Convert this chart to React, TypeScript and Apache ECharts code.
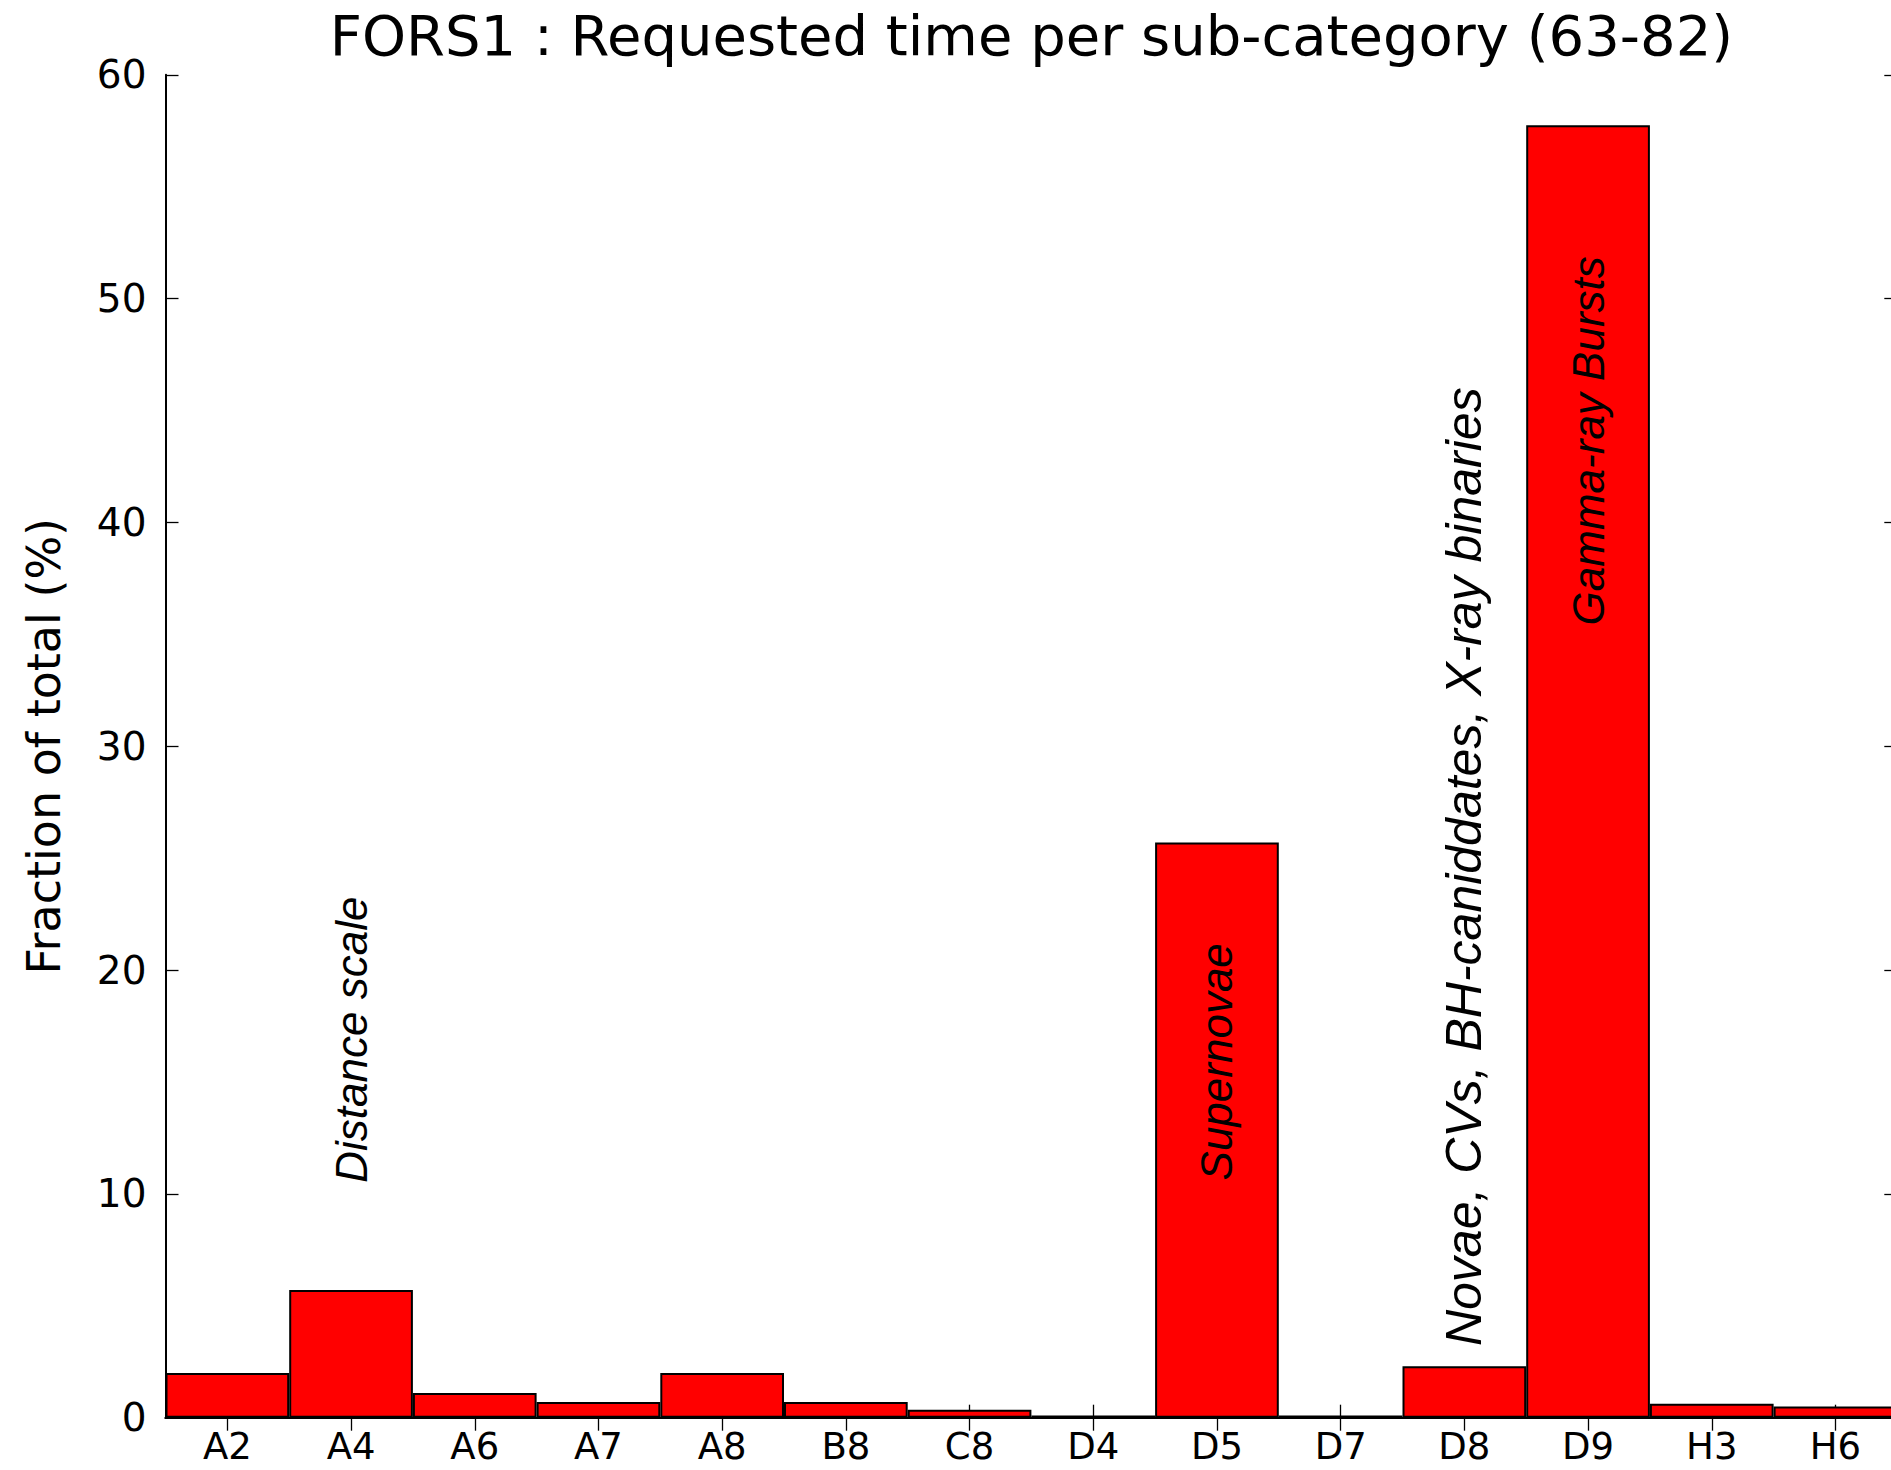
import React, { useEffect, useRef } from "react";
import * as echarts from "echarts";

const categories = ["A2", "A4", "A6", "A7", "A8", "B8", "C8", "D4", "D5", "D7", "D8", "D9", "H3", "H6"];
const values = [2.0, 5.7, 1.1, 0.7, 2.0, 0.7, 0.35, 0.1, 25.7, 0.1, 2.3, 57.75, 0.62, 0.5];
const yTicks = [0, 10, 20, 30, 40, 50, 60];

const annoCats = ["A4", "D5", "D8", "D9"];
const annoY = [10.5, 10.6, 3.2, 35.4];
const annoTexts = ["Distance scale", "Supernovae", "Novae, CVs, BH-caniddates, X-ray binaries", "Gamma-ray Bursts"];
const annoSizes = [44, 44, 50, 44];

const titleText = "FORS1 : Requested time per sub-category (63-82)";
const yName = "Fraction of total (%)";

const W = 1891;
const H = 1470;
const CW = 1900;
const gridLeft = 165.5;
const gridTop = 74.8;
const gridRight = 2.7;
const gridBottom = 52.3;
const FONT = "DejaVu Sans";

export default function App() {
  const ref = useRef<HTMLDivElement>(null);
  useEffect(() => {
    const chart = echarts.init(ref.current!, null, { renderer: "svg" });
    const axisLine = { show: true, lineStyle: { color: "#000", width: 2 } };
    const tick = { show: true, inside: true, length: 13, lineStyle: { color: "#000", width: 1.3 } };
    chart.setOption({
      animation: false,
      backgroundColor: "#fff",
      graphic: [
        {
          type: "text",
          x: (gridLeft + (CW - gridRight)) / 2,
          y: 7,
          style: {
            text: titleText,
            fontFamily: FONT,
            fontSize: 56,
            fill: "#000",
            textAlign: "center",
            textVerticalAlign: "top",
          },
        },
      ],
      grid: { left: gridLeft, top: gridTop, right: gridRight, bottom: gridBottom, containLabel: false },
      xAxis: [
        {
          type: "category",
          data: categories,
          position: "bottom",
          boundaryGap: true,
          axisLine,
          axisTick: { ...tick, alignWithLabel: true },
          axisLabel: { color: "#000", fontFamily: FONT, fontSize: 37, margin: 14, lineHeight: 30 },
          splitLine: { show: false },
        },
        {
          type: "category",
          data: categories,
          position: "top",
          boundaryGap: true,
          axisLine,
          axisTick: { ...tick, alignWithLabel: true },
          axisLabel: { show: false },
          splitLine: { show: false },
        },
      ],
      yAxis: [
        {
          type: "value",
          min: 0,
          max: 60,
          interval: 10,
          position: "left",
          name: yName,
          nameLocation: "middle",
          nameGap: 99,
          nameTextStyle: { color: "#000", fontFamily: FONT, fontSize: 46 },
          axisLine,
          axisTick: tick,
          axisLabel: {
            color: "#000",
            fontFamily: FONT,
            fontSize: 39,
            margin: 19,
            formatter: (v: number) => (yTicks.includes(v) ? String(v) : ""),
          },
          splitLine: { show: false },
        },
        {
          type: "value",
          min: 0,
          max: 60,
          interval: 10,
          position: "right",
          axisLine,
          axisTick: tick,
          axisLabel: { show: false },
          splitLine: { show: false },
        },
      ],
      series: [
        {
          type: "bar",
          data: values,
          xAxisIndex: 0,
          yAxisIndex: 0,
          barWidth: "100%",
          barCategoryGap: "0%",
          itemStyle: { color: "#ff0000", borderColor: "#000", borderWidth: 2 },
          silent: true,
          z: 2,
        },
        {
          type: "scatter",
          xAxisIndex: 0,
          yAxisIndex: 0,
          symbolSize: 0,
          silent: true,
          z: 5,
          data: annoCats.map((c, i) => ({
            value: [c, annoY[i]],
            label: {
              show: true,
              formatter: annoTexts[i],
              position: [0, 0],
              rotate: 90,
              align: "left",
              verticalAlign: "middle",
              color: "#000",
              opacity: 1,
              fontFamily: "Liberation Sans",
              fontStyle: "italic",
              fontSize: annoSizes[i],
            },
          })),
        },
      ],
    });
    return () => chart.dispose();
  }, []);
  return (
    <div style={{ position: "absolute", left: 0, top: 0, width: W, height: H, overflow: "hidden" }}>
      <div ref={ref} style={{ width: CW, height: H }} />
    </div>
  );
}
